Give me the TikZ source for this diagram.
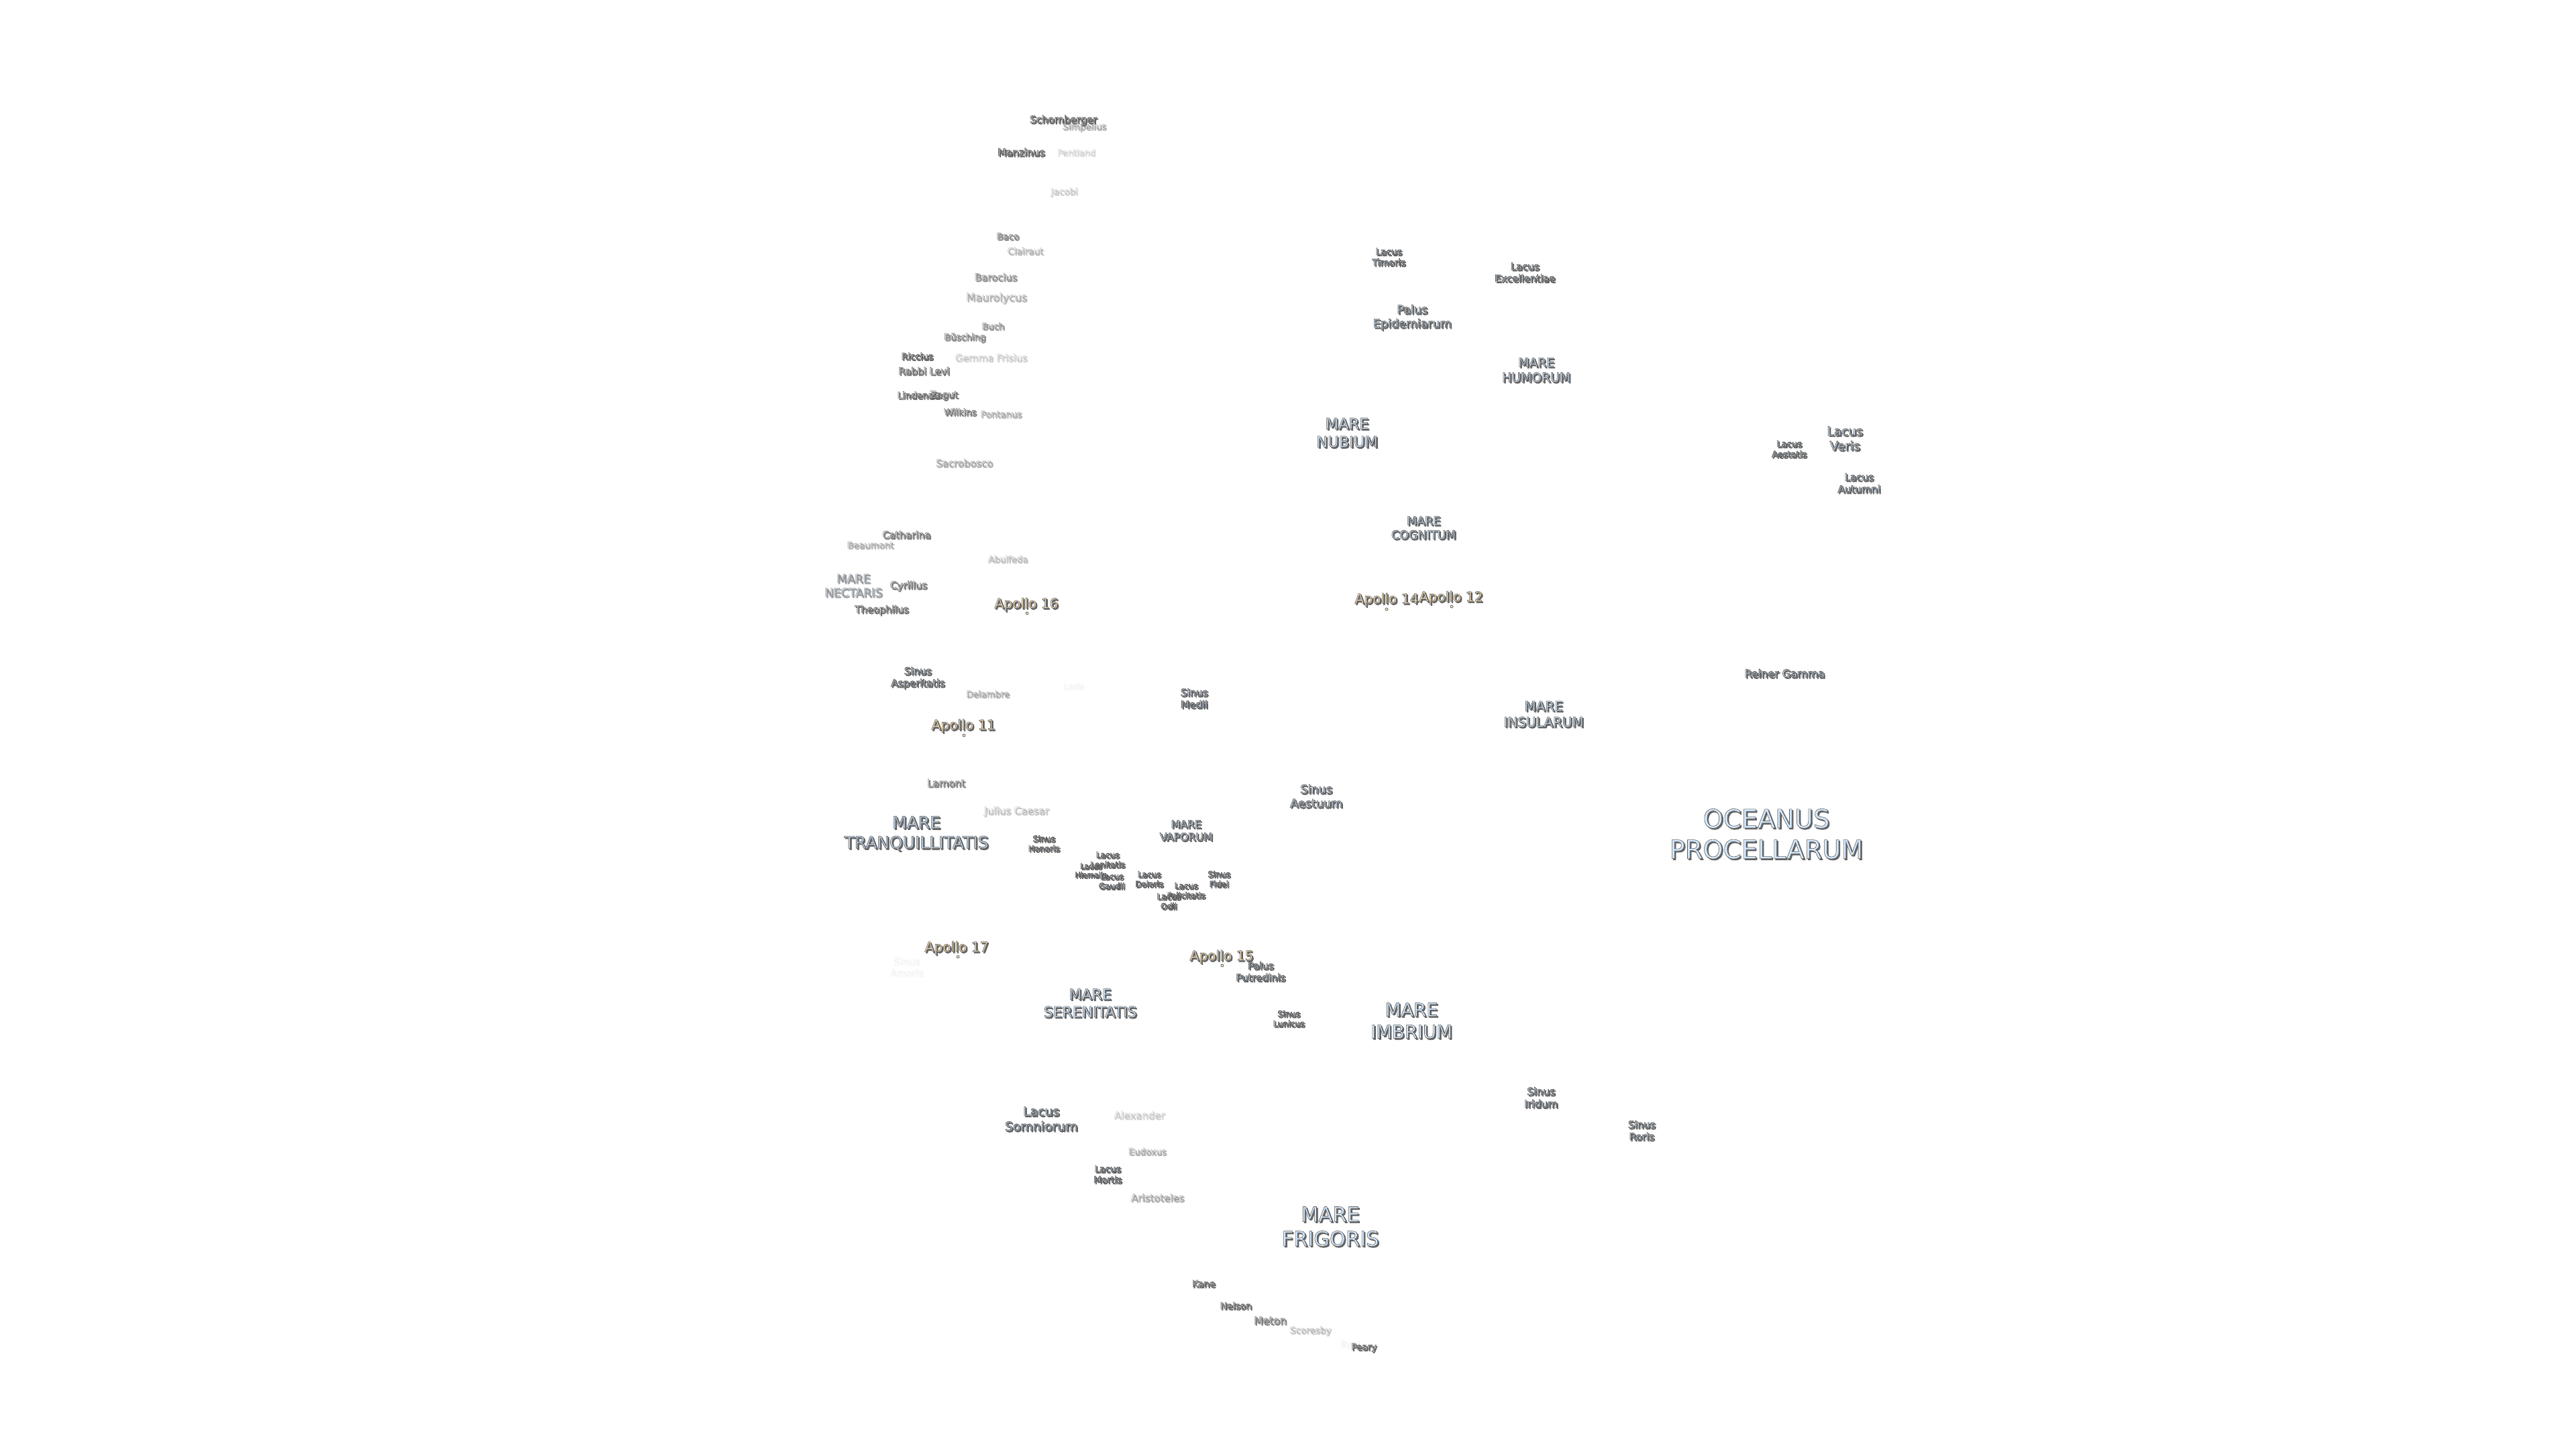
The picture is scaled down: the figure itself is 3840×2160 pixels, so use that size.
\documentclass[tikz,border=0pt]{standalone}
\usepackage{fontspec}
\setmainfont{DejaVu Sans}
\definecolor{seafill}{HTML}{D6E9FD}
\definecolor{slatefill}{HTML}{BCCFE2}
\definecolor{craterfill}{HTML}{FFFFFF}
\definecolor{apollofill}{HTML}{FFE8BC}
\definecolor{shade}{HTML}{666666}
\tikzset{x=1pt,y=-1pt,
  moonlabel/.style={align=center,inner sep=0pt,yshift=-2.5pt,text=#1},
  sea/.style={moonlabel=seafill},
  slate/.style={moonlabel=slatefill},
  crater/.style={moonlabel=craterfill},
  apollo/.style={moonlabel=apollofill},
  faded/.style={opacity=#1,execute at begin node={\pgfsetstrokeopacity{#1}}},
  lander/.style={circle,fill=apollofill,draw=shade,line width=0.8pt,inner sep=0pt,minimum size=4pt}
}
\def\linesBox#1{\def\arraystretch{1.19}\begin{tabular}{@{}c@{}}#1\end{tabular}}
\def\strokeOn{\special{pdf:code 0.36 0.36 0.36 RG 2 Tr 0.6 w}}
\def\strokeOff{\special{pdf:code 0 Tr}}
\def\shadowed#1{\rlap{\kern1.9pt\raisebox{-1.9pt}{\color{shade}\strokeOn\linesBox{#1}\strokeOff}}\strokeOn\linesBox{#1}\strokeOff}
% name, style, x, y, font size, text
\def\moon#1#2#3#4#5#6{\node[#2] (#1) at (#3,#4) {\fontsize{#5}{#5}\selectfont\shadowed{#6}};}
\begin{document}
\begin{tikzpicture}
\useasboundingbox[fill=white] (0,0) rectangle (3840,2160);
% craters
\moon{simpelius}{crater,faded=.35}{1616}{188}{13.4}{Simpelius}
\moon{schomberger}{crater}{1585}{178}{14.9}{Schomberger}
\moon{manzinus}{crater}{1522}{227}{14.9}{Manzinus}
\moon{pentland}{crater,faded=.15}{1604}{227}{13}{Pentland}
\moon{jacobi}{crater,faded=.2}{1586}{285}{13.4}{Jacobi}
\moon{baco}{crater,faded=.6}{1502}{352}{13.5}{Baco}
\moon{clairaut}{crater,faded=.3}{1528}{374}{13.6}{Clairaut}
\moon{barocius}{crater,faded=.55}{1484}{413}{14.7}{Barocius}
\moon{maurolycus}{crater,faded=.35}{1485}{443}{15.9}{Maurolycus}
\moon{buch}{crater,faded=.5}{1480}{486}{13.3}{Buch}
\moon{busching}{crater,faded=.6}{1438}{502}{13.5}{Büsching}
\moon{riccius}{crater}{1367}{531}{13.4}{Riccius}
\moon{gemma}{crater,faded=.2}{1477}{533}{14.5}{Gemma Frisius}
\moon{rabbilevi}{crater,faded=.8}{1377}{553}{14.7}{Rabbi Levi}
\moon{lindenau}{crater,faded=.85}{1369}{589}{13.7}{Lindenau}
\moon{zagut}{crater,faded=.8}{1407}{588}{14}{Zagut}
\moon{wilkins}{crater,faded=.7}{1431}{614}{13.6}{Wilkins}
\moon{pontanus}{crater,faded=.35}{1492}{617}{13.3}{Pontanus}
\moon{sacrobosco}{crater,faded=.4}{1437}{690}{14.8}{Sacrobosco}
\moon{catharina}{crater,faded=.75}{1351}{797}{14.7}{Catharina}
\moon{beaumont}{crater,faded=.35}{1297}{812}{13.4}{Beaumont}
\moon{abulfeda}{crater,faded=.25}{1502}{833}{13.3}{Abulfeda}
\moon{cyrillus}{crater,faded=.75}{1354}{872}{14.9}{Cyrillus}
\moon{theophilus}{crater,faded=.85}{1314}{908}{14.7}{Theophilus}
\moon{delambre}{crater,faded=.35}{1472}{1034}{13.2}{Delambre}
\moon{lade}{crater,faded=.03}{1600}{1022}{13}{Lade}
\moon{lamont}{crater,faded=.7}{1410}{1167}{15}{Lamont}
\moon{caesar}{crater,faded=.25}{1515}{1208}{15}{Julius Caesar}
\moon{alexander}{crater,faded=.2}{1698}{1662}{15}{Alexander}
\moon{eudoxus}{crater,faded=.35}{1710}{1716}{13.3}{Eudoxus}
\moon{aristoteles}{crater,faded=.4}{1725}{1785}{14.9}{Aristoteles}
\moon{kane}{crater,faded=.9}{1794}{1913}{13.8}{Kane}
\moon{nelson}{crater,faded=.9}{1842}{1946}{13.8}{Nelson}
\moon{meton}{crater,faded=.7}{1893}{1968}{15.7}{Meton}
\moon{scoresby}{crater,faded=.25}{1953}{1982}{13.5}{Scoresby}
\moon{byrd}{crater,faded=.03}{2012}{2002}{13}{Byrd}
\moon{peary}{crater,faded=.9}{2033}{2007}{13.4}{Peary}
% seas
\moon{nectaris}{slate,faded=.5}{1272}{873}{17.5}{MARE\\NECTARIS}
\moon{tranquillitatis}{slate}{1366}{1242}{25}{MARE\\TRANQUILLITATIS}
\moon{somniorum}{slate}{1552}{1668}{18.8}{Lacus\\Somniorum}
\moon{serenitatis}{sea}{1625}{1496}{22}{MARE\\SERENITATIS}
\moon{vaporum}{sea}{1768}{1238}{15.8}{MARE\\VAPORUM}
\moon{imbrium}{sea}{2104}{1523}{27.5}{MARE\\IMBRIUM}
\moon{frigoris}{sea}{1983}{1830}{30.5}{MARE\\FRIGORIS}
\moon{nubium}{sea}{2008}{646}{22.6}{MARE\\NUBIUM}
\moon{humorum}{sea}{2290}{552}{18.8}{MARE\\HUMORUM}
\moon{cognitum}{sea}{2122}{787}{17.5}{MARE\\COGNITUM}
\moon{insularum}{sea}{2301}{1065}{20}{MARE\\INSULARUM}
\moon{procellarum}{sea}{2633}{1246}{38.4}{OCEANUS\\PROCELLARUM}
\moon{asperitatis}{sea}{1368}{1009}{15}{Sinus\\Asperitatis}
\moon{honoris}{sea}{1556}{1257}{12.2}{Sinus\\Honoris}
\moon{amoris}{sea,faded=.03}{1351}{1441}{14.4}{Sinus\\Amoris}
\moon{fidei}{sea}{1817}{1310}{12.3}{Sinus\\Fidei}
\moon{medii}{sea}{1780}{1041}{15}{Sinus\\Medii}
\moon{aestuum}{sea}{1962}{1187}{17.6}{Sinus\\Aestuum}
\moon{lunicus}{sea}{1921}{1518}{12.3}{Sinus\\Lunicus}
\moon{iridum}{sea}{2297}{1636}{15.5}{Sinus\\Iridum}
\moon{roris}{sea}{2447}{1685}{15}{Sinus\\Roris}
\moon{hiemalis}{sea}{1626}{1297}{11}{Lacus\\Hiemalis}
\moon{lenitatis}{sea}{1651}{1281}{12}{Lacus\\Lenitatis}
\moon{gaudii}{sea}{1657}{1313}{12}{Lacus\\Gaudii}
\moon{doloris}{sea}{1713}{1310}{12}{Lacus\\Doloris}
\moon{felicitatis}{sea}{1768}{1327}{12}{Lacus\\Felicitatis}
\moon{odii}{sea}{1742}{1343}{12.2}{Lacus\\Odii}
\moon{mortis}{sea}{1651}{1750}{13.6}{Lacus\\Mortis}
\moon{timoris}{sea}{2070}{383}{13.6}{Lacus\\Timoris}
\moon{excellentiae}{sea}{2273}{406}{14.8}{Lacus\\Excellentiae}
\moon{veris}{sea}{2750}{654}{18.5}{Lacus\\Veris}
\moon{aestatis}{sea}{2667}{669}{13}{Lacus\\Aestatis}
\moon{autumni}{sea}{2771}{720}{15}{Lacus\\Autumni}
\moon{epidemiarum}{sea}{2105}{472}{17.5}{Palus\\Epidemiarum}
\moon{putredinis}{sea}{1879}{1448}{14.8}{Palus\\Putredinis}
\moon{reiner}{sea}{2660}{1004}{16}{Reiner Gamma}
% landing sites
\moon{apollo16}{apollo}{1530}{900}{20.3}{Apollo 16}
\moon{apollo11}{apollo}{1436}{1081}{20.3}{Apollo 11}
\moon{apollo17}{apollo}{1426}{1412}{20.3}{Apollo 17}
\moon{apollo15}{apollo}{1821}{1425}{20.3}{Apollo 15}
\moon{apollo14}{apollo}{2067}{893}{20.3}{Apollo 14}
\moon{apollo12}{apollo}{2163}{890}{20.3}{Apollo 12}
\node[lander] (site16) at (1531,914) {};
\node[lander] (site11) at (1437,1096) {};
\node[lander] (site17) at (1428,1426) {};
\node[lander] (site15) at (1822,1439) {};
\node[lander] (site14) at (2067,908) {};
\node[lander] (site12) at (2164,904) {};
\end{tikzpicture}
\end{document}
